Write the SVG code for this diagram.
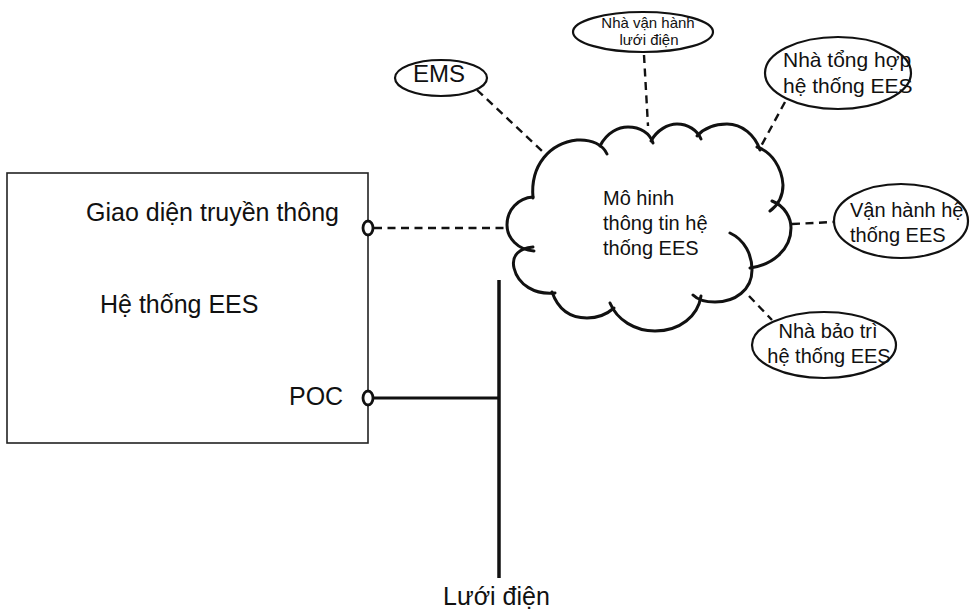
<svg xmlns="http://www.w3.org/2000/svg" width="971" height="614" viewBox="0 0 971 614">
  <style>
    .lbl { font-family: "Liberation Sans", Arial, sans-serif; fill: #111; }
    .big { font-size: 25px; }
    .mid { font-size: 20px; }
    .small { font-size: 15px; }
    .oval { fill: none; stroke: #111; stroke-width: 2.2; }
    .dash { fill: none; stroke: #111; stroke-width: 2.4; stroke-dasharray: 8 5.5; }
    .lobe { fill: none; stroke: #111; stroke-width: 3; stroke-linecap: round; }
    .port { fill: #fff; stroke: #111; stroke-width: 2.8; }
  </style>
  <rect width="971" height="614" fill="#fff"/>

  <!-- connectors -->
  <g id="connectors">
    <line class="dash" x1="374" y1="228" x2="506" y2="228"/>
    <line class="dash" x1="477" y1="90" x2="543" y2="152"/>
    <line class="dash" x1="644" y1="55" x2="648" y2="126"/>
    <line class="dash" x1="785" y1="102" x2="760" y2="148"/>
    <line class="dash" x1="792" y1="224" x2="833" y2="222"/>
    <line class="dash" x1="749" y1="296" x2="772" y2="320"/>
    <line x1="374" y1="398" x2="499" y2="398" stroke="#111" stroke-width="3"/>
    <line x1="499" y1="280" x2="499" y2="578" stroke="#111" stroke-width="3.5"/>
  </g>

  <!-- storage system block -->
  <g id="ees-system">
    <rect x="7" y="173" width="361" height="270" fill="none" stroke="#222" stroke-width="1.6"/>
    <text class="lbl big" x="86" y="221">Giao diện truyền thông</text>
    <text class="lbl big" x="100" y="313">Hệ thống EES</text>
    <text class="lbl big" x="289" y="405">POC</text>
    <ellipse class="port" cx="368" cy="228" rx="5" ry="7"/>
    <ellipse class="port" cx="368" cy="398" rx="5" ry="7"/>
  </g>

  <!-- grid bus label -->
  <g id="grid">
    <text class="lbl big" x="443" y="605">Lưới điện</text>
  </g>

  <!-- information model cloud -->
  <g id="info-model">
    <path class="lobe" d="M533,198 C530,165 550,143 577,140 C592,139 603,145 607,154"/>
    <path class="lobe" d="M600,146 C607,132 619,127 628,127 C640,127 650,133 653,143"/>
    <path class="lobe" d="M651,141 C657,130 668,124 677,124 C688,124 697,130 701,139"/>
    <path class="lobe" d="M697,136 C705,127 715,124 727,124 C742,124 755,135 760,150"/>
    <path class="lobe" d="M757,147 C772,152 782,168 783,185 C783,196 778,205 770,211"/>
    <path class="lobe" d="M772,201 C785,206 791,218 791,228 C791,250 772,265 750,268"/>
    <path class="lobe" d="M730,233 C745,240 752,255 752,270 C752,290 735,302 715,302 C705,302 697,299 693,295"/>
    <path class="lobe" d="M701,296 C698,316 680,331 655,331 C635,331 617,320 610,303"/>
    <path class="lobe" d="M614,308 C606,315 596,318 587,318 C570,318 558,309 552,292"/>
    <path class="lobe" d="M555,293 C535,295 518,285 514,268 C511,255 520,248 533,247"/>
    <path class="lobe" d="M534,251 C518,250 507,238 507,225 C507,210 518,198 533,197"/>
    <text class="lbl mid" x="603" y="205">Mô hinh</text>
    <text class="lbl mid" x="603" y="230">thông tin hệ</text>
    <text class="lbl mid" x="603" y="255">thống EES</text>
  </g>

  <g id="ems">
    <ellipse class="oval" cx="441" cy="78" rx="46" ry="18"/>
    <text class="lbl" font-size="24" x="413" y="82">EMS</text>
  </g>

  <g id="grid-operator">
    <ellipse class="oval" cx="643" cy="32" rx="70" ry="20"/>
    <text class="lbl small" x="648" y="28" text-anchor="middle">Nhà vận hành</text>
    <text class="lbl small" x="649" y="45" text-anchor="middle">lưới điện</text>
  </g>

  <g id="integrator">
    <ellipse class="oval" cx="838" cy="73" rx="73" ry="36"/>
    <text class="lbl" font-size="21" x="783" y="67">Nhà tổng hợp</text>
    <text class="lbl" font-size="21" x="783" y="93">hệ thống EES</text>
  </g>

  <g id="operation">
    <ellipse class="oval" cx="901" cy="221" rx="67" ry="37"/>
    <text class="lbl mid" x="850" y="217">Vận hành hệ</text>
    <text class="lbl mid" x="850" y="242">thống EES</text>
  </g>

  <g id="maintainer">
    <ellipse class="oval" cx="824" cy="345" rx="72" ry="33"/>
    <text class="lbl mid" x="828" y="338" text-anchor="middle">Nhà bảo trì</text>
    <text class="lbl mid" x="829" y="363" text-anchor="middle">hệ thống EES</text>
  </g>
</svg>
